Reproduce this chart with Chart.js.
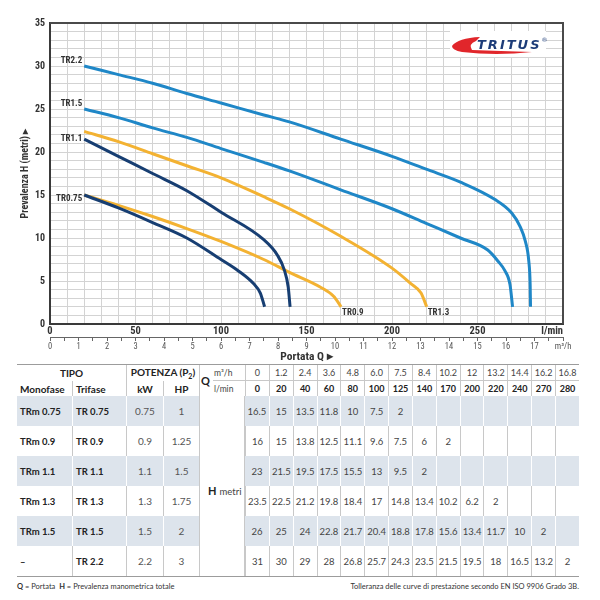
<!DOCTYPE html>
<html lang="it">
<head>
  <meta charset="UTF-8" />
  <title>TRITUS TR - curve di prestazione</title>
  <script src="https://cdn.jsdelivr.net/npm/chart.js"></script>
  <style>
    body { margin: 0; background: #fff; width: 600px; height: 600px; overflow: hidden; }
    #curve { display: block; }
    #perf {
      margin-left: 17px; width: 562px; table-layout: fixed;
      border-collapse: separate; border-spacing: 0;
      border-top: 1px solid #9c9c9c; border-bottom: 1px solid #9c9c9c;
      font-family: Lato, "Open Sans", sans-serif; color: #333;
    }
    #perf th, #perf td { padding: 0; text-align: center; border-left: 1px solid #c8c8c8; white-space: nowrap; }
    #perf th { font-weight: bold; font-size: 10px; color: #222; }
    #perf tr.h1 th { height: 15px; }
    #perf tr.h2 th { height: 15px; }
    #perf th.top { border-bottom: 1px solid #c8c8c8; }
    #perf th.n { font-weight: normal; font-size: 9px; color: #444; }
    #perf tr.h2 th.n { font-weight: bold; color: #222; }
    #perf .first { border-left: none; }
    #perf .lf { text-align: left; padding-left: 3px; }
    #perf .q { text-align: left; padding-left: 1px; font-size: 11px; }
    #perf .unit { text-align: left; padding-left: 1px; border-left: none; font-weight: normal; font-size: 8.5px; color: #444; }
    #perf tr.d td { height: 30px; font-size: 9.5px; color: #444; }
    #perf tr.d td.name { font-weight: bold; font-size: 9.5px; color: #222; }
    #perf tr.d td.pw { font-size: 10px; color: #555; }
    #perf tr.shade td.s { background: #dde4ec; border-left-color: #fff; }
    #perf tr.shade td.s.first { border-left: none; }
    #perf td.hcell { background: #fff; text-align: left; padding-left: 8px; padding-top: 8px; vertical-align: middle; border-right: 1px solid #c8c8c8; font-size: 8.5px; color: #444; }
    #perf td.hcell b { font-size: 11px; color: #222; margin-right: 3px; }
    #perf tr.shade td.after-h { border-left: none; }
    .note {
      margin: 5px 21px 0 17px; display: flex; justify-content: space-between;
      font-family: Lato, "Open Sans", sans-serif; font-size: 7.5px; color: #333;
    }
  </style>
</head>
<body>

  <canvas id="curve" width="600" height="364"></canvas>
  <table id="perf">
    <colgroup>
      <col style="width:55px"><col style="width:54px"><col style="width:37px"><col style="width:36px">
      <col style="width:14px"><col style="width:32px">
      <col><col><col><col><col><col><col><col><col><col><col><col><col><col>
    </colgroup>
    <thead></thead>
    <tbody></tbody>
  </table>
  <div class="note">
    <span><b>Q</b> = Portata &nbsp;<b>H</b> = Prevalenza manometrica totale</span>
    <span>Tolleranza delle curve di prestazione secondo EN ISO 9906 Grado 3B.</span>
  </div>

  <script>
    // --- table data ---
    const monofase = ['TRm 0.75', 'TRm 0.9', 'TRm 1.1', 'TRm 1.3', 'TRm 1.5', '–'];
    const trifase = ['TR 0.75', 'TR 0.9', 'TR 1.1', 'TR 1.3', 'TR 1.5', 'TR 2.2'];
    const powerKw = ['0.75', '0.9', '1.1', '1.3', '1.5', '2.2'];
    const powerHp = ['1', '1.25', '1.5', '1.75', '2', '3'];
    const flowM3h = ['0', '1.2', '2.4', '3.6', '4.8', '6.0', '7.5', '8.4', '10.2', '12', '13.2', '14.4', '16.2', '16.8'];
    const flowLmin = [0, 20, 40, 60, 80, 100, 125, 140, 170, 200, 220, 240, 270, 280];
    const headTR075 = [16.5, 15, 13.5, 11.8, 10, 7.5, 2, null, null, null, null, null, null, null];
    const headTR09 = [16, 15, 13.8, 12.5, 11.1, 9.6, 7.5, 6, 2, null, null, null, null, null];
    const headTR11 = [23, 21.5, 19.5, 17.5, 15.5, 13, 9.5, 2, null, null, null, null, null, null];
    const headTR13 = [23.5, 22.5, 21.2, 19.8, 18.4, 17, 14.8, 13.4, 10.2, 6.2, 2, null, null, null];
    const headTR15 = [26, 25, 24, 22.8, 21.7, 20.4, 18.8, 17.8, 15.6, 13.4, 11.7, 10, 2, null];
    const headTR22 = [31, 30, 29, 28, 26.8, 25.7, 24.3, 23.5, 21.5, 19.5, 18, 16.5, 13.2, 2];

    // --- curves (l/min, metri) ---
    const curveNames = ['TR2.2', 'TR1.5', 'TR1.1', 'TR0.75', 'TR1.3', 'TR0.9'];
    const tr22Q = [20, 40, 60, 80, 100, 125, 140, 170, 200, 220, 240, 260, 270, 275, 278, 280, 280.8, 281];
    const tr22H = [30, 29, 28, 26.8, 25.7, 24.3, 23.5, 21.5, 19.5, 18, 16.5, 14.5, 12.9, 11.3, 9.6, 7.3, 4.5, 2];
    const tr15Q = [20, 40, 60, 80, 100, 125, 140, 170, 200, 220, 240, 256, 262, 266, 269, 270.5];
    const tr15H = [25, 24, 22.8, 21.7, 20.4, 18.8, 17.8, 15.6, 13.4, 11.7, 10, 8.6, 7.3, 6.2, 4.6, 2];
    const tr11Q = [20, 40, 60, 80, 100, 125, 133, 137, 139.3, 140.4];
    const tr11H = [21.5, 19.5, 17.5, 15.5, 13, 9.8, 8.0, 6.3, 4.3, 2];
    const tr075Q = [20, 40, 60, 80, 100, 110, 119, 123, 125.5];
    const tr075H = [15, 13.5, 11.8, 10, 7.5, 6.2, 4.7, 3.6, 2];
    const tr13Q = [20, 40, 60, 80, 100, 125, 140, 170, 200, 211, 217, 220.3];
    const tr13H = [22.4, 21.2, 19.8, 18.4, 17, 14.8, 13.4, 10.2, 6.5, 4.7, 3.6, 2];
    const tr09Q = [20, 40, 60, 80, 100, 125, 140, 158, 166, 170.2];
    const tr09H = [15, 13.8, 12.5, 11.1, 9.6, 7.5, 6, 4.3, 3.2, 2];

    // table
    const cell = v => (v === null ? '' : v);
    let head = '<tr class="h1"><th colspan="2" class="first">TIPO</th><th colspan="2">POTENZA (P<sub style="font-size:7px">2</sub>)</th>' +
      '<th rowspan="2" class="q">Q</th><th class="unit top">m³/h</th>' +
      flowM3h.map(v => '<th class="top n">' + v + '</th>').join('') + '</tr>';
    head += '<tr class="h2"><th class="first lf">Monofase</th><th class="lf">Trifase</th><th>kW</th><th>HP</th>' +
      '<th class="unit">l/min</th>' + flowLmin.map(v => '<th class="n">' + v + '</th>').join('') + '</tr>';
    document.querySelector('#perf thead').innerHTML = head;

    const headRows = [headTR075, headTR09, headTR11, headTR13, headTR15, headTR22];
    let body = '';
    headRows.forEach((vals, i) => {
      body += '<tr class="d' + (i % 2 === 0 ? ' shade' : '') + '">' +
        '<td class="s first lf name">' + monofase[i] + '</td>' +
        '<td class="s lf name">' + trifase[i] + '</td>' +
        '<td class="s pw">' + powerKw[i] + '</td>' +
        '<td class="s pw">' + powerHp[i] + '</td>' +
        (i === 0 ? '<td colspan="2" rowspan="6" class="hcell"><b>H</b>metri</td>' : '') +
        vals.map((v, j) => '<td class="s' + (j === 0 ? ' after-h' : '') + '">' + cell(v) + '</td>').join('') +
        '</tr>';
    });
    document.querySelector('#perf tbody').innerHTML = body;

    // chart
    const narrow = '"Roboto Condensed", "Open Sans Condensed", sans-serif';
    const curves = [[tr22Q, tr22H], [tr15Q, tr15H], [tr11Q, tr11H], [tr075Q, tr075H], [tr13Q, tr13H], [tr09Q, tr09H]];
    const blue = '#1f87c7', navy = '#173e72', amber = '#f3b232';
    const lineColors = [blue, blue, navy, navy, amber, amber];
    const labelAt = ['start', 'start', 'start', 'start', 'end', 'end'];
    const labelDy = [-5, -5, 0, 4, 6, 6];

    const datasets = curves.map((c, i) => ({
      label: curveNames[i],
      data: c[0].map((q, k) => ({ x: q, y: c[1][k] })),
      borderColor: lineColors[i],
      borderWidth: 3,
      fill: false,
      pointRadius: 0,
      cubicInterpolationMode: 'monotone'
    }));

    const decorations = {
      id: 'decorations',
      afterDatasetsDraw(chart) {
        const ctx = chart.ctx;
        ctx.save();
        ctx.font = 'bold 9px ' + narrow;
        ctx.fillStyle = '#333';
        ctx.textBaseline = 'middle';
        chart.data.datasets.forEach((ds, i) => {
          const pts = chart.getDatasetMeta(i).data;
          if (labelAt[i] === 'start') {
            const p = pts[0];
            ctx.textAlign = 'right';
            ctx.fillText(ds.label, p.x - 2, p.y + labelDy[i]);
          } else {
            const p = pts[pts.length - 1];
            ctx.textAlign = 'left';
            ctx.fillText(ds.label, p.x + 1, p.y + labelDy[i]);
          }
        });
        ctx.restore();
      },
      afterDraw(chart) {
        const { ctx, chartArea: a } = chart;
        ctx.save();
        // frame top and right
        ctx.strokeStyle = '#4a4a4a';
        ctx.lineWidth = 2;
        ctx.beginPath();
        ctx.moveTo(a.left, a.top);
        ctx.lineTo(a.right, a.top);
        ctx.lineTo(a.right, a.bottom);
        ctx.stroke();
        // unit label
        ctx.font = 'bold 10.5px ' + narrow;
        ctx.fillStyle = '#333';
        ctx.textAlign = 'right';
        ctx.textBaseline = 'middle';
        ctx.fillText('l/min', a.right, a.bottom + 7);
        // logo
        const lx = a.right - 111, ly = a.top + 8;
        ctx.fillStyle = '#fff';
        ctx.fillRect(lx - 2, ly, 96, 26);
        ctx.fillStyle = '#e1262b';
        ctx.beginPath();
        ctx.moveTo(lx, ly + 15);
        ctx.quadraticCurveTo(lx + 6, ly + 7, lx + 28, ly + 6);
        ctx.lineTo(lx + 24, ly + 10);
        ctx.quadraticCurveTo(lx + 16, ly + 13, lx + 20, ly + 19);
        ctx.quadraticCurveTo(lx + 48, ly + 20, lx + 80, ly + 21);
        ctx.quadraticCurveTo(lx + 44, ly + 25, lx + 10, ly + 21);
        ctx.quadraticCurveTo(lx, ly + 19, lx, ly + 15);
        ctx.fill();
        ctx.fillStyle = '#1d3c78';
        ctx.font = 'italic bold 13px "DejaVu Sans", sans-serif';
        ctx.letterSpacing = '2px';
        ctx.textAlign = 'left';
        ctx.textBaseline = 'alphabetic';
        ctx.fillText('TRITUS', lx + 25, ly + 18);
        const tw = ctx.measureText('TRITUS').width;
        ctx.letterSpacing = '0px';
        ctx.font = '6px "DejaVu Sans", sans-serif';
        ctx.fillText('®', lx + 25 + tw, ly + 11);
        ctx.restore();
      }
    };

    new Chart(document.getElementById('curve').getContext('2d'), {
      type: 'line',
      data: { datasets },
      options: {
        responsive: false,
        animation: false,
        layout: { padding: { top: 23, right: 37, left: 0, bottom: 0 } },
        plugins: { legend: { display: false }, tooltip: { enabled: false } },
        scales: {
          x: {
            type: 'linear', position: 'bottom', min: 0, max: 300, weight: 0,
            ticks: {
              stepSize: 10, autoSkip: false, maxRotation: 0, padding: 1, color: '#333',
              font: { family: narrow, size: 10.5, weight: 'bold' },
              callback: v => (v % 50 === 0 && v < 300 ? v : '')
            },
            grid: { color: '#d3d3d3', drawTicks: false },
            border: { color: '#3a3a3a', width: 2 },
            afterFit: s => { s.height = 13; }
          },
          x2: {
            type: 'linear', position: 'bottom', min: 0, max: 18, weight: 1,
            ticks: {
              stepSize: 0.5, autoSkip: false, maxRotation: 0, padding: 1, color: '#555',
              font: { family: narrow, size: 8.5 },
              callback: v => (v === 18 ? 'm³/h' : (Number.isInteger(v) ? v : ''))
            },
            grid: { drawOnChartArea: false, drawTicks: true, tickLength: 4, color: '#666' },
            border: { color: '#666', width: 1 },
            title: {
              display: true, text: 'Portata Q ▸', color: '#333',
              font: { family: narrow, size: 11.5, weight: 'bold' }, padding: { top: 0, bottom: 0 }
            },
            afterFit: s => { s.height = 27; }
          },
          y: {
            min: 0, max: 35,
            ticks: {
              stepSize: 1, autoSkip: false, padding: 5, color: '#333',
              font: { family: narrow, size: 10, weight: 'bold' },
              callback: v => (v % 5 === 0 ? v : '')
            },
            grid: { color: '#d3d3d3', drawTicks: false },
            border: { color: '#3a3a3a', width: 2 },
            title: {
              display: true, text: 'Prevalenza H (metri) ▸', color: '#333',
              font: { family: narrow, size: 10, weight: 'bold' }, padding: { top: 19, bottom: 0 }
            },
            afterFit: s => { s.width = 50; }
          }
        }
      },
      plugins: [decorations]
    });
  </script>

</body>
</html>
